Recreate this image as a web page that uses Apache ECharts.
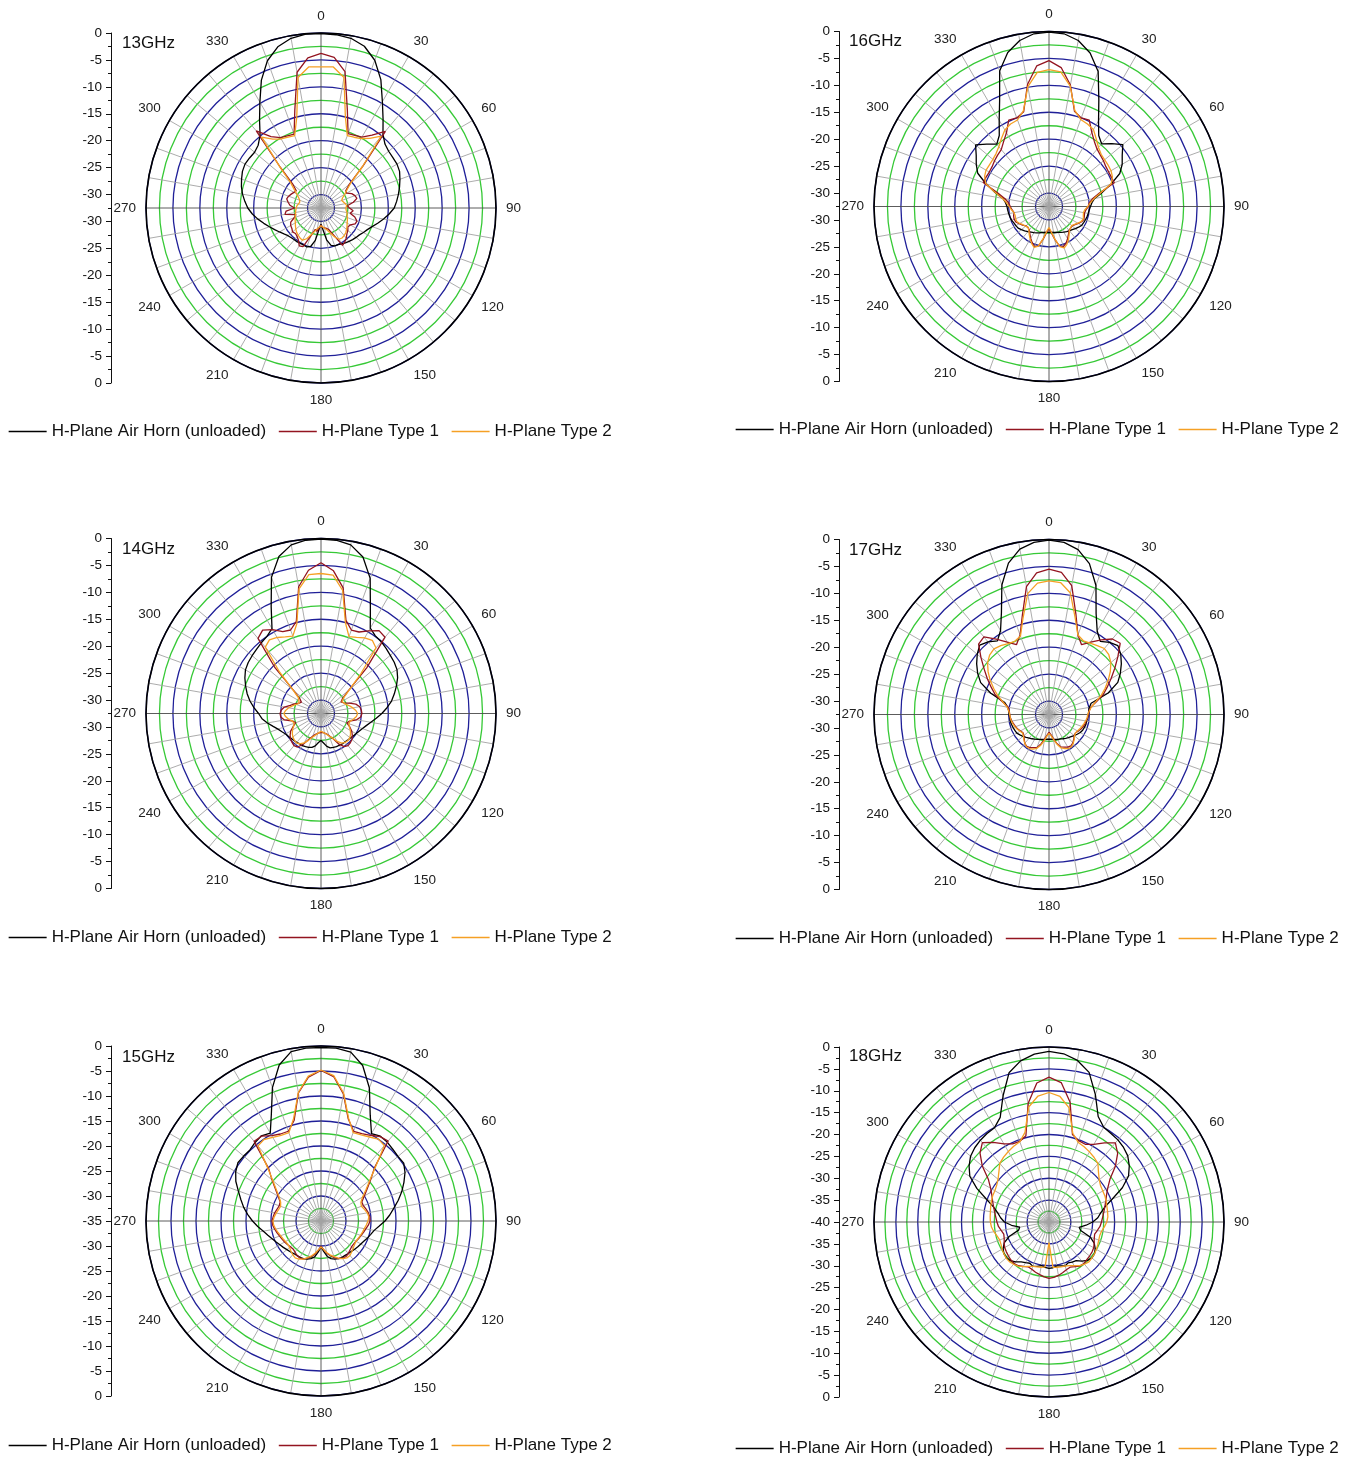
<!DOCTYPE html>
<html>
<head>
<meta charset="utf-8">
<script src="https://cdn.jsdelivr.net/npm/echarts@6/dist/echarts.min.js"></script>
<style>
  html, body { margin: 0; padding: 0; background: #ffffff; }
  #chart { width: 1358px; height: 1459px; }
</style>
</head>
<body>
<div id="chart"></div>
<script>
// Measurement angles (degrees, clockwise from boresight)
const ANGLES = [0,5,10,15,20,25,30,35,40,45,50,55,60,65,70,75,80,85,90,95,100,105,110,115,120,125,130,135,140,145,150,155,160,165,170,175,
  180,185,190,195,200,205,210,215,220,225,230,235,240,245,250,255,260,265,270,275,280,285,290,295,300,305,310,315,320,325,330,335,340,345,350,355];

const SERIES_NAMES = ['H-Plane Air Horn (unloaded)', 'H-Plane Type 1', 'H-Plane Type 2'];
const FREQ_LABELS = ['13GHz', '14GHz', '15GHz', '16GHz', '17GHz', '18GHz'];
// Level at the centre of each polar plot (dB); the rim is 0 dB
const CENTER_DB = [-32.5, -32.5, -35, -32.5, -32.5, -40];
const ANGLE_TICKS = [0, 30, 60, 90, 120, 150, 180, 210, 240, 270, 300, 330];

// ---- 13 GHz (dB) ----
const air13 = [-0.1,-0.2,-0.5,-1.4,-3.3,-6.2,-9.7,-12.4,-14.6,-15.7,-16.1,-16.2,-16.2,-16.4,-16.9,-17.4,-17.9,-18.4,-18.9,-19.8,-20.7,-21.6,-22.4,-23.0,-23.4,-23.8,-24.0,-24.2,-24.4,-24.6,-24.8,-25.0,-25.0,-25.3,-26.5,-28.5,
  -29.5,-28.6,-26.4,-25.1,-24.8,-24.9,-24.9,-24.8,-24.8,-24.7,-24.5,-24.1,-23.6,-23.0,-22.3,-21.5,-20.6,-19.7,-18.9,-18.3,-17.7,-17.2,-16.8,-16.4,-16.2,-16.3,-16.4,-16.0,-14.9,-12.6,-9.8,-6.3,-3.4,-1.5,-0.5,-0.1];
const t1_13 = [-3.8,-4.4,-6.8,-13.6,-17.8,-17.6,-17.3,-16.0,-13.9,-21.5,-25.6,-26.9,-27.0,-26.2,-25.8,-25.6,-26.4,-27.6,-27.2,-26.5,-27.0,-26.0,-25.4,-25.5,-26.2,-26.4,-26.0,-25.7,-25.2,-24.8,-24.5,-27.0,-28.2,-28.6,-28.3,-28.9,
  -29.3,-28.8,-28.1,-28.4,-27.0,-24.6,-24.4,-25.2,-25.6,-25.8,-25.6,-25.9,-26.0,-26.3,-27.2,-27.7,-25.7,-26.0,-27.6,-26.7,-26.3,-25.9,-26.1,-26.4,-26.7,-26.9,-25.7,-21.8,-13.8,-16.3,-17.4,-17.7,-17.9,-13.7,-6.9,-4.5];
const t2_13 = [-6.3,-6.2,-7.9,-15.0,-18.2,-18.0,-17.6,-16.7,-15.1,-21.6,-25.3,-26.6,-27.4,-28.1,-28.4,-28.2,-27.9,-27.7,-27.9,-27.8,-27.6,-27.5,-27.3,-27.1,-26.9,-26.6,-26.3,-26.0,-25.8,-25.7,-25.8,-26.6,-27.6,-28.3,-28.7,-29.0,
  -29.2,-29.0,-28.6,-28.0,-27.2,-26.2,-25.6,-25.7,-25.9,-26.1,-26.4,-26.7,-27.0,-27.2,-27.4,-27.6,-27.7,-27.8,-27.9,-28.0,-28.2,-28.4,-28.3,-27.9,-27.3,-26.4,-25.1,-21.7,-15.3,-16.9,-17.7,-18.0,-18.2,-15.1,-7.9,-6.2];

// ---- 14 GHz (dB) ----
const air14 = [-0.1,-0.2,-0.7,-2.4,-5.8,-10.8,-14.2,-14.9,-15.1,-15.4,-15.7,-15.9,-16.2,-16.8,-17.6,-18.4,-19.2,-20.2,-21.2,-22.2,-23.1,-23.8,-24.3,-24.7,-25.0,-25.2,-25.4,-25.5,-25.6,-25.6,-25.7,-25.7,-25.8,-25.9,-26.3,-27.0,
  -27.5,-27.1,-26.4,-26.0,-25.8,-25.7,-25.6,-25.6,-25.5,-25.4,-25.3,-25.1,-24.9,-24.5,-24.0,-23.3,-22.4,-21.5,-20.9,-20.0,-19.1,-18.3,-17.6,-16.9,-16.3,-16.0,-15.8,-15.6,-15.3,-15.0,-14.3,-10.6,-5.6,-2.3,-0.7,-0.2];
const t1_14 = [-4.5,-5.9,-8.8,-14.6,-16.0,-15.8,-14.8,-13.7,-14.0,-20.5,-25.8,-27.6,-28.2,-27.8,-26.9,-25.8,-25.2,-25.0,-24.9,-25.1,-25.8,-27.0,-27.4,-26.6,-25.9,-25.4,-25.0,-24.8,-24.7,-25.0,-26.0,-27.4,-28.1,-28.6,-28.8,-29.0,
  -29.0,-28.9,-28.7,-28.5,-28.0,-27.2,-25.9,-24.9,-24.7,-24.9,-25.1,-25.5,-26.0,-26.8,-27.5,-27.1,-25.6,-25.0,-24.9,-25.1,-25.6,-26.6,-27.3,-28.0,-28.3,-27.7,-25.9,-20.3,-14.3,-13.6,-14.5,-15.7,-16.0,-14.8,-8.6,-5.8];
const t2_14 = [-6.5,-6.7,-9.3,-15.0,-17.3,-16.9,-16.3,-15.9,-16.6,-22.0,-25.6,-27.3,-28.0,-28.0,-27.6,-27.0,-26.5,-26.0,-25.7,-25.9,-26.4,-26.9,-27.0,-26.7,-26.2,-25.8,-25.5,-25.4,-25.5,-25.8,-26.5,-27.5,-28.0,-28.5,-28.8,-29.0,
  -29.2,-29.0,-28.7,-28.3,-27.8,-27.0,-26.2,-25.6,-25.4,-25.5,-25.7,-26.0,-26.4,-26.9,-27.2,-27.0,-26.4,-25.9,-25.6,-25.9,-26.4,-27.0,-27.6,-28.0,-28.1,-27.4,-25.7,-21.6,-16.4,-15.8,-16.2,-16.8,-17.2,-15.2,-9.0,-6.6];

// ---- 15 GHz (dB) ----
const air15 = [-0.3,-0.3,-0.7,-2.8,-6.7,-11.7,-14.8,-14.3,-14.4,-14.7,-14.9,-14.8,-15.6,-16.7,-17.8,-19.0,-20.2,-21.2,-22.2,-23.3,-24.2,-24.7,-25.1,-25.5,-25.8,-26.0,-26.2,-26.4,-26.5,-26.6,-26.6,-26.7,-26.9,-27.2,-27.8,-28.9,
  -29.8,-28.8,-27.7,-27.2,-26.9,-26.7,-26.6,-26.6,-26.5,-26.3,-26.1,-25.8,-25.5,-25.1,-24.6,-24.0,-23.3,-22.3,-21.3,-20.3,-19.3,-18.4,-17.4,-16.2,-15.3,-14.7,-14.8,-14.9,-14.5,-14.2,-14.7,-11.5,-6.6,-2.7,-0.6,-0.3];
const t1_15 = [-4.9,-6.0,-9.2,-13.9,-15.9,-15.7,-15.2,-14.4,-14.1,-19.8,-22.0,-23.7,-25.0,-26.0,-26.0,-25.7,-25.4,-25.2,-25.2,-25.5,-25.9,-26.2,-26.5,-26.7,-26.9,-27.0,-27.0,-26.8,-26.5,-26.3,-26.4,-26.7,-27.2,-27.8,-28.5,-29.3,
  -29.9,-29.2,-28.3,-27.6,-27.1,-26.6,-26.5,-26.6,-26.9,-27.1,-27.0,-26.8,-26.6,-26.4,-26.2,-25.9,-25.6,-25.3,-25.2,-25.4,-25.6,-25.9,-26.1,-26.0,-25.1,-23.9,-22.2,-20.2,-14.2,-14.3,-15.3,-15.8,-15.9,-14.2,-9.0,-6.1];
const t2_15 = [-4.8,-5.8,-9.0,-13.7,-16.2,-16.0,-15.6,-15.0,-15.3,-19.5,-22.2,-24.0,-25.4,-26.2,-26.4,-26.0,-25.6,-25.4,-25.6,-25.9,-26.2,-26.4,-26.6,-26.8,-26.9,-26.8,-26.6,-26.3,-26.0,-26.0,-26.3,-26.8,-27.4,-28.0,-28.6,-29.3,
  -29.8,-29.2,-28.5,-27.8,-27.2,-26.6,-26.2,-26.0,-26.2,-26.5,-26.8,-26.9,-26.8,-26.6,-26.4,-26.1,-25.8,-25.5,-25.4,-25.6,-25.9,-26.2,-26.4,-26.1,-25.3,-24.1,-22.4,-19.9,-15.4,-15.1,-15.7,-16.1,-16.2,-13.8,-8.9,-5.9];

// ---- 16 GHz (dB) ----
const air16 = [-0.1,-0.3,-1.2,-3.0,-5.8,-10.6,-14.1,-16.4,-17.3,-16.0,-14.6,-15.9,-16.8,-18.0,-20.2,-22.2,-23.9,-24.5,-24.8,-25.0,-25.1,-25.2,-25.3,-25.4,-25.5,-25.8,-26.1,-26.4,-26.6,-26.8,-27.0,-27.2,-27.4,-27.5,-27.6,-27.7,
  -27.7,-27.7,-27.6,-27.5,-27.3,-27.1,-26.9,-26.7,-26.4,-26.1,-25.8,-25.5,-25.4,-25.3,-25.1,-25.0,-24.9,-24.8,-24.7,-24.4,-23.8,-22.0,-20.0,-17.9,-16.9,-16.0,-14.7,-16.1,-17.4,-16.4,-14.0,-10.8,-5.7,-2.9,-1.2,-0.3];
const t1_16 = [-5.4,-6.6,-9.6,-14.2,-15.0,-14.8,-16.6,-17.8,-18.6,-19.0,-19.3,-19.6,-19.7,-19.7,-19.6,-22.8,-24.3,-25.0,-25.2,-25.6,-25.8,-25.7,-25.6,-25.8,-26.2,-26.6,-26.9,-26.9,-26.7,-26.2,-25.6,-25.0,-24.6,-24.9,-26.3,-27.6,
  -28.4,-27.7,-26.4,-24.9,-24.6,-25.1,-25.7,-26.3,-26.8,-27.0,-26.9,-26.5,-26.1,-25.7,-25.6,-25.7,-25.9,-25.6,-25.3,-25.0,-24.2,-22.6,-19.5,-19.6,-19.7,-19.6,-19.3,-19.0,-18.7,-17.8,-16.7,-14.8,-15.0,-14.3,-9.5,-6.3];
const t2_16 = [-7.1,-7.4,-9.8,-14.0,-15.3,-15.6,-16.0,-17.2,-18.2,-18.8,-19.0,-19.1,-19.2,-19.5,-20.2,-22.5,-24.0,-24.8,-25.3,-25.8,-26.0,-25.9,-25.7,-25.9,-26.3,-26.7,-27.0,-27.0,-26.6,-26.0,-25.3,-24.7,-24.3,-24.8,-26.4,-27.8,
  -28.6,-27.9,-26.5,-24.9,-24.4,-24.9,-25.5,-26.1,-26.7,-27.0,-27.0,-26.6,-26.2,-25.9,-25.9,-26.0,-25.9,-25.5,-25.1,-24.6,-23.7,-22.0,-20.0,-19.3,-19.0,-19.0,-18.9,-18.6,-18.0,-17.1,-16.1,-15.6,-15.4,-14.1,-9.9,-7.5];

// ---- 17 GHz (dB) ----
const air17 = [-0.1,-0.4,-1.4,-3.5,-7.0,-11.8,-14.6,-15.9,-15.0,-14.4,-15.1,-16.1,-17.2,-18.4,-20.8,-24.4,-24.9,-25.1,-25.2,-25.3,-25.4,-25.4,-25.5,-25.6,-25.8,-26.1,-26.4,-26.7,-26.9,-27.1,-27.3,-27.5,-27.6,-27.7,-27.8,-27.9,
  -27.9,-27.9,-27.8,-27.7,-27.6,-27.4,-27.2,-27.0,-26.8,-26.5,-26.2,-25.9,-25.6,-25.5,-25.4,-25.3,-25.2,-25.2,-25.1,-25.0,-24.7,-24.0,-21.0,-18.5,-17.2,-16.1,-15.1,-14.3,-14.9,-15.8,-14.5,-11.6,-6.9,-3.4,-1.3,-0.4];
const t1_17 = [-5.5,-6.0,-8.2,-13.2,-16.8,-18.2,-17.0,-15.6,-14.2,-13.8,-15.8,-17.6,-19.2,-20.6,-21.8,-23.4,-24.6,-25.0,-25.2,-25.3,-25.5,-25.6,-25.8,-26.0,-26.3,-26.5,-26.4,-26.0,-25.6,-25.4,-25.5,-25.8,-26.1,-27.0,-28.0,-28.8,
  -29.2,-28.7,-27.9,-26.9,-26.0,-25.7,-25.4,-25.3,-25.5,-26.0,-26.4,-26.6,-26.4,-26.1,-25.9,-25.7,-25.5,-25.3,-25.2,-25.1,-24.8,-23.6,-21.9,-20.7,-19.3,-17.8,-16.0,-14.0,-13.7,-15.4,-17.0,-18.2,-16.8,-13.4,-8.4,-6.1];
const t2_17 = [-7.7,-7.9,-9.6,-13.8,-16.8,-17.4,-17.2,-16.9,-16.5,-16.8,-17.5,-18.6,-19.8,-21.0,-22.2,-23.6,-24.5,-25.0,-25.3,-25.4,-25.6,-25.8,-26.0,-26.2,-26.4,-26.5,-26.3,-25.9,-25.5,-25.2,-25.2,-25.5,-25.9,-26.8,-27.8,-28.6,
  -29.0,-28.5,-27.6,-26.6,-25.8,-25.4,-25.2,-25.2,-25.5,-25.9,-26.3,-26.5,-26.3,-26.0,-25.8,-25.6,-25.4,-25.3,-25.2,-25.0,-24.6,-23.7,-22.4,-21.2,-19.9,-18.7,-17.6,-16.9,-16.6,-16.9,-17.3,-17.5,-17.0,-13.9,-9.7,-8.0];

// ---- 18 GHz (dB) ----
const air18 = [-1.0,-1.4,-2.5,-4.6,-9.0,-13.4,-15.0,-15.3,-15.5,-15.9,-16.5,-17.6,-19.0,-21.5,-24.6,-26.8,-28.0,-28.8,-30.0,-31.5,-33.0,-32.5,-30.0,-28.6,-27.8,-27.3,-27.2,-27.6,-28.3,-29.2,-29.4,-29.7,-29.3,-29.6,-29.8,-29.5,
  -29.4,-29.6,-29.9,-29.5,-29.2,-29.6,-29.3,-28.9,-28.1,-27.5,-27.3,-27.4,-27.9,-28.7,-30.3,-32.8,-33.2,-31.4,-29.8,-28.9,-28.1,-26.9,-24.8,-21.8,-19.1,-17.7,-16.6,-16.0,-15.6,-15.3,-15.1,-13.6,-9.3,-4.7,-2.6,-1.5];
const t1_18 = [-6.9,-8.0,-12.2,-19.3,-20.2,-20.4,-19.5,-17.9,-16.4,-17.8,-20.2,-23.0,-24.5,-25.5,-26.2,-26.8,-27.3,-27.7,-28.0,-28.3,-28.8,-29.2,-29.0,-28.6,-28.2,-28.0,-27.9,-27.8,-27.6,-27.7,-28.2,-28.6,-28.4,-28.0,-27.6,-27.3,
  -27.1,-27.4,-27.8,-28.1,-28.5,-28.7,-28.3,-27.8,-27.6,-27.7,-27.9,-28.1,-28.3,-28.7,-29.1,-29.3,-28.9,-28.4,-28.1,-27.8,-27.4,-26.9,-26.3,-25.6,-24.6,-23.1,-20.1,-17.7,-16.3,-17.8,-19.4,-20.3,-20.4,-19.6,-12.5,-8.1];
const t2_18 = [-10.4,-11.2,-13.5,-19.0,-20.6,-21.0,-21.5,-22.0,-22.6,-24.0,-25.0,-25.6,-25.8,-25.9,-26.1,-26.3,-26.4,-26.5,-26.8,-27.3,-27.8,-28.0,-27.9,-27.7,-27.5,-27.3,-27.2,-27.1,-27.4,-27.8,-28.5,-29.0,-29.3,-29.4,-29.5,-29.6,
  -35.3,-29.7,-29.5,-29.4,-29.2,-28.8,-28.2,-27.7,-27.4,-27.2,-27.2,-27.4,-27.6,-27.9,-28.0,-27.7,-27.2,-26.8,-26.6,-26.5,-26.4,-26.2,-26.0,-25.8,-25.7,-25.4,-24.8,-23.8,-22.5,-21.9,-21.4,-20.9,-20.5,-18.8,-13.3,-11.1];

const PANEL_DATA = [
  [air13, t1_13, t2_13],
  [air14, t1_14, t2_14],
  [air15, t1_15, t2_15],
  [air16, t1_16, t2_16],
  [air17, t1_17, t2_17],
  [air18, t1_18, t2_18]
];

// ---- layout (pixels) ----
const RADIUS = 175;
const LAYOUT = [
  { cx: 321,  cy: 208,   axisX: 111, titleX: 122, titleY: 35,   legendX: 8,   legendY: 423 },
  { cx: 321,  cy: 713.5, axisX: 111, titleX: 122, titleY: 541,  legendX: 8,   legendY: 929 },
  { cx: 321,  cy: 1221,  axisX: 111, titleX: 122, titleY: 1049, legendX: 8,   legendY: 1437 },
  { cx: 1049, cy: 206.5, axisX: 839, titleX: 849, titleY: 33,   legendX: 735, legendY: 421 },
  { cx: 1049, cy: 714.5, axisX: 839, titleX: 849, titleY: 542,  legendX: 735, legendY: 930 },
  { cx: 1049, cy: 1222,  axisX: 839, titleX: 849, titleY: 1048, legendX: 735, legendY: 1440 }
];

const FONT = '"Liberation Sans", Arial, Helvetica, sans-serif';
const LINE_COLORS = ['#000000', '#931420', '#f5a024'];
const RING_BLUE = '#1f1f98';
const RING_GREEN = '#36c936';
const SPOKE = '#a3a3a3';
const CROSS = '#4a4a4a';

const option = {
  animation: false,
  backgroundColor: '#ffffff',
  textStyle: { fontFamily: FONT },
  title: [], legend: [], polar: [], angleAxis: [], radiusAxis: [],
  grid: [], xAxis: [], yAxis: [], series: []
};

LAYOUT.forEach((L, i) => {
  const minDb = CENTER_DB[i];
  const span = -minDb;
  // rings every 2.5 dB: multiples of 5 dB in blue, the others in green
  const ringColors = (Math.abs(minDb) % 5 === 0) ? [RING_BLUE, RING_GREEN] : [RING_GREEN, RING_BLUE];

  option.title.push({
    text: FREQ_LABELS[i], left: L.titleX, top: L.titleY, padding: 0,
    textStyle: { fontSize: 17, fontWeight: 'normal', color: '#111', fontFamily: FONT }
  });

  // legend keys are plain line segments (the point marker is hidden)
  option.legend.push({
    data: SERIES_NAMES, left: L.legendX, top: L.legendY, orient: 'horizontal',
    itemWidth: 38, itemHeight: 14, itemGap: 12, selectedMode: false, padding: 0,
    itemStyle: { opacity: 0 },
    lineStyle: { width: 1.3 },
    textStyle: { fontSize: 17, color: '#111', fontFamily: FONT }
  });

  option.polar.push({ center: [L.cx, L.cy], radius: RADIUS });

  option.radiusAxis.push({
    polarIndex: i, type: 'value', min: minDb, max: 0, interval: 2.5, z: 0,
    axisLine: { show: false }, axisTick: { show: false }, axisLabel: { show: false },
    splitLine: { show: true, lineStyle: { color: ringColors, width: 1.3 } }
  });

  option.angleAxis.push({
    polarIndex: i, type: 'value', min: 0, max: 360, interval: 10,
    startAngle: 90, clockwise: true, z: 1,
    axisLine: { show: true, lineStyle: { color: '#000', width: 1.6 } },
    axisTick: { show: false },
    axisLabel: {
      show: true, margin: 10, fontSize: 13.5, color: '#222', fontFamily: FONT,
      formatter: v => (ANGLE_TICKS.indexOf(v) >= 0 ? String(v) : '')
    },
    splitLine: { show: true, lineStyle: { color: [CROSS, SPOKE, SPOKE, SPOKE, SPOKE, SPOKE, SPOKE, SPOKE, SPOKE], width: 0.9 } }
  });

  // mirrored dB scale along the vertical diameter
  option.grid.push({ left: L.axisX, top: L.cy - RADIUS, width: 10, height: 2 * RADIUS, containLabel: false });
  option.xAxis.push({ gridIndex: i, type: 'value', show: false, min: 0, max: 1 });
  option.yAxis.push({
    gridIndex: i, type: 'value', min: -span, max: span, interval: 5, position: 'left',
    axisLine: { show: true, onZero: false, lineStyle: { color: '#111', width: 1 } },
    axisTick: { show: true, inside: false, length: 5, lineStyle: { color: '#111' } },
    minorTick: { show: true, splitNumber: 2, length: 3, lineStyle: { color: '#111' } },
    splitLine: { show: false },
    axisLabel: {
      show: true, margin: 9, fontSize: 13.5, color: '#111', fontFamily: FONT,
      formatter: v => {
        const d = Math.round((minDb + Math.abs(v)) * 10) / 10;
        return d === 0 ? '0' : String(d);
      }
    }
  });

  PANEL_DATA[i].forEach((vals, k) => {
    const pts = ANGLES.map((a, j) => [vals[j], a]);
    pts.push([vals[0], 360]);
    option.series.push({
      type: 'line', name: SERIES_NAMES[k], coordinateSystem: 'polar', polarIndex: i,
      data: pts, symbol: 'none', smooth: false, z: 3 + k,
      color: LINE_COLORS[k],
      lineStyle: { color: LINE_COLORS[k], width: 1.3 },
      itemStyle: { color: LINE_COLORS[k] },
      emphasis: { disabled: true }
    });
  });
});

const chart = echarts.init(document.getElementById('chart'), null, { renderer: 'canvas' });
chart.setOption(option);
</script>
</body>
</html>
